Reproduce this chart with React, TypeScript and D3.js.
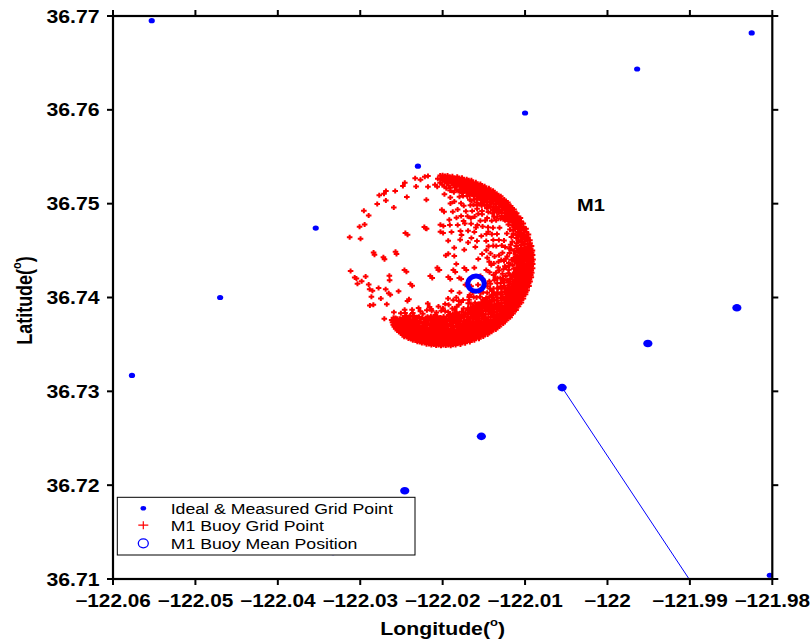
import React from 'react';
import * as d3 from 'd3';

// Axis ticks
const lonTicks = [-122.06, -122.05, -122.04, -122.03, -122.02, -122.01, -122.0, -121.99, -121.98];
const lonTickLabels = ['−122.06', '−122.05', '−122.04', '−122.03', '−122.02', '−122.01', '−122', '−121.99', '−121.98'];
const latTicks = [36.71, 36.72, 36.73, 36.74, 36.75, 36.76, 36.77];
const latTickLabels = ['36.71', '36.72', '36.73', '36.74', '36.75', '36.76', '36.77'];

// Ideal & measured grid points
const gridLon = [-122.0553, -121.9825, -121.9964, -122.01, -122.023, -122.0354, -122.047, -122.0577, -121.9843, -121.9951, -122.0055, -122.0153, -122.0246, -122.0333, -121.9803];
const gridLat = [36.7695, 36.7682, 36.76435, 36.75966, 36.754, 36.7474, 36.74, 36.7317, 36.7389, 36.7351, 36.7304, 36.7252, 36.7194, 36.71293, 36.7104];
const gridMeasured = [false, false, false, false, false, false, false, false, true, true, true, true, true, true, false];

// Mooring line segment
const cableLon = [-122.0055, -121.9901];
const cableLat = [36.7304, 36.71];

// M1 buoy anchor and mean position
const anchorLon = -122.0204;
const anchorLat = 36.7439;
const meanLon = -122.01595;
const meanLat = 36.74148;

// Station label position
const stationLon = -122.002;
const stationLat = 36.7492;

// M1 buoy GPS fixes around the anchor: [bearing (deg from north), range (m), range (m), ...]
const buoyFixes: number[][] = [
  [0.5, 1010, 968, 925], [2, 1014, 990, 952, 901], [3.5, 1006, 975, 938, 880], [5, 1015, 996, 960, 921, 862],
  [6.5, 1003, 981, 944, 897], [8, 1012, 988, 969, 930, 875, 842], [9.5, 998, 976, 951, 910],
  [11, 1013, 992, 965, 934, 888, 826], [12.5, 1004, 983, 955, 918, 860], [14, 1015, 995, 972, 940, 905, 852],
  [15.5, 1000, 978, 957, 926, 880], [17, 1011, 989, 964, 931, 896, 840], [18.5, 1005, 984, 950, 915, 868, 810],
  [20, 1014, 993, 970, 942, 903, 858], [21.5, 998, 975, 947, 920, 878, 822], [23, 1010, 988, 962, 930, 890, 845],
  [24.5, 1002, 979, 953, 911, 866, 795],
  [26, 1013, 992, 968, 936, 900, 852, 790], [27.5, 1001, 977, 949, 915, 874, 820], [29, 1010, 986, 958, 927, 887, 842, 760],
  [30.5, 997, 971, 940, 903, 860, 800], [32, 1012, 990, 963, 932, 895, 850, 772], [33.5, 1003, 979, 948, 912, 871, 815, 740],
  [35, 1014, 994, 966, 938, 901, 856, 798], [36.5, 999, 973, 944, 908, 866, 826], [38, 1009, 987, 960, 925, 889, 838, 750],
  [39.5, 1002, 978, 951, 916, 878, 808], [41, 1013, 991, 964, 933, 897, 847], [42.5, 996, 970, 941, 905, 862, 785],
  [44, 1011, 988, 959, 927, 884, 833], [45.5, 1001, 976, 947, 913, 870, 805, 725], [47, 1014, 993, 965, 935, 893, 846],
  [48.5, 998, 972, 943, 906, 858, 790], [50, 1008, 985, 955, 921, 880, 818], [51.5, 1003, 977, 946, 910, 862],
  [53, 1012, 990, 962, 928, 885, 829], [54.5, 995, 969, 938, 898, 850],
  [56, 1010, 982, 950, 905, 858], [58, 998, 970, 932, 886], [60, 1013, 988, 955, 914, 862], [62, 1001, 975, 940, 893],
  [64, 1011, 984, 948, 906, 850], [66, 996, 968, 930, 878], [68, 1012, 989, 958, 917, 864], [70, 1003, 976, 942, 897, 830],
  [72, 1014, 991, 961, 924, 875], [74, 999, 972, 938, 890, 822], [76, 1010, 985, 953, 913, 864, 795], [78, 1004, 978, 946, 905, 850],
  [80, 1013, 992, 966, 935, 897, 852, 790], [81.5, 1000, 976, 948, 913, 870, 815], [83, 1015, 995, 969, 939, 902, 860, 765],
  [84.5, 1004, 980, 952, 918, 878, 828], [86, 1012, 989, 961, 929, 890, 842, 735], [87.5, 998, 973, 944, 909, 866, 805],
  [89, 1014, 993, 967, 937, 899, 855, 780], [90.5, 1002, 978, 950, 915, 875, 820], [92, 1011, 987, 959, 926, 887, 838, 752],
  [93.5, 997, 972, 943, 906, 862, 795], [95, 1013, 991, 964, 933, 895, 848, 712], [96.5, 1001, 977, 947, 912, 869, 812],
  [98, 1010, 986, 957, 922, 884, 834, 760], [99.5, 1004, 980, 951, 917, 876, 825],
  [101, 1014, 994, 969, 940, 906, 868, 822, 760], [102.5, 999, 975, 948, 916, 880, 837, 786, 700],
  [104, 1012, 990, 964, 934, 899, 858, 810, 740], [105.5, 1003, 979, 953, 922, 887, 846, 795],
  [107, 1015, 996, 971, 943, 910, 872, 828, 768, 690], [108.5, 1000, 976, 950, 919, 884, 841, 790, 725],
  [110, 1011, 989, 963, 932, 897, 856, 806, 748], [111.5, 1005, 981, 955, 925, 890, 850, 799, 715],
  [113, 1013, 993, 967, 938, 903, 864, 817, 757, 680], [114.5, 998, 974, 947, 915, 878, 835, 782, 730],
  [116, 1012, 991, 965, 936, 901, 861, 813, 752], [117.5, 1004, 980, 953, 921, 885, 843, 793, 705],
  [119, 1015, 995, 970, 941, 907, 869, 824, 765], [120.5, 1001, 977, 950, 918, 882, 840, 788, 728],
  [122, 1010, 988, 962, 931, 896, 855, 807, 745, 672], [123.5, 1003, 979, 952, 920, 884, 842, 794, 730],
  [125, 1014, 993, 968, 939, 905, 866, 820, 762, 700], [126.5, 999, 975, 949, 917, 880, 838, 787, 722],
  [128, 1012, 990, 964, 933, 898, 858, 811, 751, 688], [129.5, 1005, 981, 955, 924, 889, 848, 800, 738],
  [131, 1015, 996, 972, 944, 912, 876, 834, 786, 728, 670], [132.5, 1001, 978, 952, 921, 886, 846, 800, 745, 690],
  [134, 1011, 990, 965, 936, 903, 865, 821, 770, 712, 655], [135.5, 1004, 981, 956, 927, 893, 854, 810, 758, 700],
  [137, 1014, 994, 970, 942, 910, 873, 831, 782, 725, 668], [138.5, 998, 976, 950, 919, 884, 844, 798, 742, 685],
  [140, 1012, 991, 967, 938, 905, 867, 824, 774, 716, 660], [141.5, 1003, 980, 955, 925, 891, 852, 807, 754, 696],
  [143, 1015, 995, 971, 943, 911, 875, 833, 785, 729, 672], [144.5, 1000, 977, 951, 921, 887, 848, 803, 750, 692],
  [146, 1011, 990, 966, 937, 904, 866, 822, 771, 713, 652], [147.5, 1005, 982, 957, 928, 894, 856, 812, 761, 703],
  [149, 1014, 994, 969, 941, 908, 871, 828, 779, 722, 664], [150.5, 999, 976, 950, 920, 885, 846, 801, 748, 690],
  [152, 1012, 992, 968, 939, 906, 869, 826, 776, 719, 658], [153.5, 1004, 981, 956, 926, 892, 853, 808, 756, 698],
  [155, 1015, 996, 972, 945, 913, 877, 836, 788, 732, 675], [156.5, 1001, 978, 953, 923, 889, 850, 805, 752, 694],
  [158, 1011, 990, 965, 936, 903, 865, 821, 770, 711, 650], [159.5, 1005, 983, 958, 929, 896, 858, 814, 763, 705],
  [161, 1014, 994, 970, 942, 909, 872, 829, 780, 724, 666], [162.5, 998, 975, 949, 918, 883, 843, 797, 744, 686],
  [164, 1012, 991, 967, 938, 905, 868, 825, 775, 718, 661], [165.5, 1003, 980, 955, 925, 891, 852, 807, 755, 697],
  [167, 1015, 995, 971, 944, 912, 876, 834, 786, 730, 673], [168.5, 1000, 977, 951, 921, 886, 847, 802, 749, 691],
  [170, 1011, 990, 966, 937, 904, 866, 823, 772, 714, 655], [171.5, 1004, 982, 957, 927, 893, 855, 811, 759, 701],
  [173, 1010, 990, 966, 938, 905, 868, 825, 775, 718, 663], [174.5, 998, 975, 949, 919, 884, 844, 799, 746, 689],
  [176, 1002, 984, 962, 935, 903, 867, 825, 776, 719, 660], [177.5, 995, 974, 950, 921, 888, 850, 806, 755, 698],
  [179, 1003, 985, 963, 937, 906, 871, 830, 783, 728, 670], [180.5, 994, 973, 949, 920, 887, 849, 804, 752, 694],
  [182, 1000, 981, 958, 931, 899, 862, 819, 769, 712, 655], [183.5, 992, 972, 948, 920, 888, 851, 809, 760, 704],
  [185, 998, 980, 957, 930, 899, 863, 822, 775, 720, 666], [186.5, 988, 967, 942, 912, 878, 839, 795, 743, 688],
  [188, 994, 976, 953, 926, 895, 859, 818, 770, 715, 660], [189.5, 985, 965, 941, 913, 881, 844, 802, 752, 698],
  [191, 990, 972, 950, 924, 894, 859, 819, 773, 720, 672], [192.5, 982, 962, 938, 910, 878, 841, 798, 747, 692],
  [194, 986, 967, 945, 918, 887, 852, 812, 764, 712], [195.5, 978, 958, 934, 906, 874, 838, 796, 748, 698],
  [197, 982, 963, 940, 914, 883, 848, 808, 762, 712], [198.5, 975, 955, 931, 903, 871, 835, 793, 745, 695],
  [200, 978, 959, 936, 910, 879, 844, 804, 758, 708],
  [201.5, 968, 948, 925, 898, 866, 830, 788, 740], [203, 975, 957, 934, 907, 876, 840, 797, 750, 705],
  [204.5, 962, 941, 916, 886, 852, 813, 768], [206, 955, 936, 912, 884, 851, 813, 770, 720],
  [207.5, 948, 927, 902, 872, 838, 798, 752], [209, 940, 920, 895, 866, 832, 792, 745],
  [210.5, 932, 910, 884, 853, 818, 776], [212, 920, 898, 872, 842, 806],
  [213.5, 905, 880, 852, 820], [215, 885, 858, 826], [216.5, 868, 835],
  // fixes along the inner edge of the dense band
  [100, 655], [103, 628], [108, 662], [114, 592], [119, 671], [126, 640], [130, 585], [134, 612], [139, 566],
  [142, 628], [148, 590], [155, 620], [158, 560], [163, 636], [166, 580], [171, 612], [178, 590], [184, 640],
  [189, 575], [196, 650], [205, 680], [211, 720], [214, 745],
  [4, 790], [9, 760], [13, 720], [16, 790], [22, 705], [26, 655], [31, 690], [34, 610], [37, 700], [43, 650],
  [46, 690], [50, 740], [53, 660], [59, 760], [63, 700], [66, 800], [71, 740], [75, 700], [79, 770], [82, 690],
  [88, 720], [91, 640], [94, 760],
  [10, 690], [14, 600], [19, 720], [24, 580], [27, 740], [32, 520], [36, 650], [40, 720], [45, 560], [49, 620],
  [52, 780], [56, 700], [58, 600], [61, 650], [65, 560], [69, 690], [73, 610], [77, 730], [81, 560], [84, 650],
  [86, 520], [90, 700], [93, 590], [98, 700], [104, 560], [107, 720], [111, 640], [115, 520], [120, 600],
  [123, 700], [127, 560], [133, 680], [136, 520], [145, 560], [149, 650], [156, 520], [162, 490], [167, 640],
  [174, 600], [181, 540], [187, 680], [193, 600], [202, 600], [207, 650], [213, 690],
  // scattered fixes
  [345, 1012], [348, 982], [351, 1008], [353, 1012], [338, 998], [336, 970], [344, 914], [352, 886], [357, 902],
  [359, 972], [358.5, 877], [325, 1008], [323, 996], [320, 1012], [330, 956], [335, 833], [349, 736], [321, 920],
  [315, 951], [322, 801], [306, 1010], [305, 934], [295, 953], [298, 916], [286, 1010], [287, 892], [312, 495],
  [338, 434], [339, 410], [1.5, 427], [2, 344], [2.5, 605], [278, 719], [274, 607], [283, 487], [340, 404],
  [312, 463], [5, 583], [6, 416], [7, 333], [280, 471], [272, 594], [276, 706],
  [263, 968], [257, 921], [258, 937], [254, 875], [253, 927], [257, 819], [250, 814], [252, 569], [247, 585],
  [254, 393], [195, 85], [209, 203], [229, 415], [246, 826], [244, 806], [240, 849], [244, 732], [240, 671],
  [235, 669], [233, 665], [231, 568], [235, 773], [235, 918], [234, 883], [228, 766], [216, 587], [216, 560],
  [221, 908], [219, 782], [191, 556], [188, 596], [201, 215], [225, 416], [250, 379],
  [12.5, 498], [20, 542], [29, 540], [38, 558], [44, 592], [21, 367], [38, 389], [52, 440], [57, 542], [57, 631],
  [67, 634], [46, 224], [64, 300], [67, 423], [76, 524], [74, 641], [47, 95], [70, 172], [87, 422], [91, 540],
  [95, 564], [89, 670], [96, 727], [97, 642], [102, 519], [102, 387], [107, 282], [125, 185], [186, 107],
  [153, 213], [133, 295], [109, 641], [116, 615], [117, 713], [128, 600], [150, 436], [143, 536], [151, 530],
  [173, 514], [169, 528], [154, 541], [161, 575], [151, 639], [152, 696], [49, 128], [101, 187], [151, 244],
  [132, 319], [110, 311], [127, 216], [180, 107], [22, 256], [42, 337], [41, 474],
  [112, 480], [118, 560], [124, 505], [131, 455], [137, 590], [141, 520], [146, 610], [157, 470], [164, 600],
  [168, 455], [176, 560], [183, 610], [194, 520], [199, 630], [106, 610], [121, 640], [135, 400], [160, 380],
  [15, 440], [25, 470], [33, 420], [48, 510], [55, 380], [60, 470], [72, 560], [80, 470], [85, 600], [30, 610],
  [18, 640],
];

const legendLabels = ['Ideal & Measured Grid Point', 'M1 Buoy Grid Point', 'M1 Buoy Mean Position'];
const stationLabel = 'M1';

const W = 810;
const H = 643;
const plot = { left: 113, right: 772.3, top: 16, bottom: 579 };
const FONT = "'Liberation Sans', Arial, Helvetica, sans-serif";
const STRETCH = 1.18;
const BLUE = '#0000ff';
const RED = '#ff0000';

const x = d3.scaleLinear().domain([-122.06, -121.98]).range([plot.left, plot.right]);
const y = d3.scaleLinear().domain([36.71, 36.77]).range([plot.bottom, plot.top]);

// Convert bearing/range fixes to geographic coordinates (local flat-earth approximation)
const rad = Math.PI / 180;
const mPerDegLat = 110980;
const mPerDegLon = 111320 * Math.cos(anchorLat * rad);
const fixes = buoyFixes.flatMap(([b, ...ranges]) =>
  ranges.map((r) => ({
    lon: anchorLon + (r * Math.sin(b * rad)) / mPerDegLon,
    lat: anchorLat + (r * Math.cos(b * rad)) / mPerDegLat,
  }))
);

function crossPath(points: { lon: number; lat: number }[], hx: number, hy: number) {
  return points
    .map((p) => {
      const cx = x(p.lon);
      const cy = y(p.lat);
      return `M${(cx - hx).toFixed(2)},${cy.toFixed(2)}H${(cx + hx).toFixed(2)}M${cx.toFixed(2)},${(cy - hy).toFixed(2)}V${(cy + hy).toFixed(2)}`;
    })
    .join('');
}

const Label = ({ tx, ty, anchor = 'start', size = 18, weight = 'bold', children }: any) => (
  <g transform={`translate(${tx},${ty}) scale(${STRETCH},1)`}>
    <text textAnchor={anchor} fontSize={size} fontWeight={weight} fontFamily={FONT} fill="#000">
      {children}
    </text>
  </g>
);

export default function App() {
  const tick = 6;
  const legend = { x0: 117.3, y0: 497.3, x1: 415, y1: 555 };
  const legendRows = [508.3, 525.2, 543.3];
  const markerX = 143.3;
  const textX = 170.7;

  return (
    <svg width={W} height={H} viewBox={`0 0 ${W} ${H}`} style={{ position: 'absolute', left: 0, top: 0, background: '#fff' }}>
      <rect x={0} y={0} width={W} height={H} fill="#fff" />
      <defs>
        <clipPath id="plot-clip">
          <rect x={plot.left} y={plot.top} width={plot.right - plot.left} height={plot.bottom - plot.top} />
        </clipPath>
      </defs>

      <g clipPath="url(#plot-clip)">
        {/* buoy fixes */}
        <path d={crossPath(fixes, 2.8, 2.5)} stroke={RED} strokeWidth={2} fill="none" />

        {/* mooring line */}
        <path
          d={d3.line<number>().x((_, i) => x(cableLon[i])).y((_, i) => y(cableLat[i]))(cableLon) || ''}
          stroke={BLUE}
          strokeWidth={1}
          fill="none"
        />

        {/* grid points */}
        {gridLon.map((lon, i) => (
          <ellipse
            key={i}
            cx={x(lon)}
            cy={y(gridLat[i])}
            rx={gridMeasured[i] ? 4.6 : 3.1}
            ry={gridMeasured[i] ? 3.8 : 2.6}
            fill={BLUE}
          />
        ))}

        {/* mean position */}
        <ellipse cx={x(meanLon)} cy={y(meanLat)} rx={8.2} ry={7.6} fill="none" stroke={BLUE} strokeWidth={5} />
      </g>

      {/* station label */}
      <Label tx={x(stationLon)} ty={y(stationLat)} anchor="middle" size={17}>
        {stationLabel}
      </Label>

      {/* frame */}
      <rect
        x={plot.left}
        y={plot.top}
        width={plot.right - plot.left}
        height={plot.bottom - plot.top}
        fill="none"
        stroke="#000"
        strokeWidth={2.2}
      />

      {/* ticks */}
      {lonTicks.map((t, i) => (
        <g key={`xt${i}`}>
          <line x1={x(t)} x2={x(t)} y1={plot.bottom} y2={plot.bottom + tick} stroke="#000" strokeWidth={2} />
          <line x1={x(t)} x2={x(t)} y1={plot.top} y2={plot.top - tick} stroke="#000" strokeWidth={2} />
          <Label tx={x(t)} ty={607} anchor="middle" size={17.6}>
            {lonTickLabels[i]}
          </Label>
        </g>
      ))}
      {latTicks.map((t, i) => (
        <g key={`yt${i}`}>
          <line x1={plot.left - tick} x2={plot.left} y1={y(t)} y2={y(t)} stroke="#000" strokeWidth={2} />
          <line x1={plot.right} x2={plot.right + tick} y1={y(t)} y2={y(t)} stroke="#000" strokeWidth={2} />
          <Label tx={99.5} ty={y(t) + 6.5} anchor="end">
            {latTickLabels[i]}
          </Label>
        </g>
      ))}

      {/* axis titles */}
      <Label tx={(plot.left + plot.right) / 2} ty={635} anchor="middle">
        Longitude(<tspan dy={-9} fontSize={11}>o</tspan>
        <tspan dy={9}>)</tspan>
      </Label>
      <g transform={`translate(32,${(plot.top + plot.bottom) / 2 + 3}) scale(${STRETCH},1) rotate(-90)`}>
        <text textAnchor="middle" fontSize={18} fontWeight="bold" fontFamily={FONT}>
          Latitude(<tspan dy={-9} fontSize={11}>o</tspan>
          <tspan dy={9}>)</tspan>
        </text>
      </g>

      {/* legend */}
      <rect x={legend.x0} y={legend.y0} width={legend.x1 - legend.x0} height={legend.y1 - legend.y0} fill="#fff" stroke="#000" strokeWidth={1} />
      <ellipse cx={markerX} cy={legendRows[0]} rx={2.8} ry={2.3} fill={BLUE} />
      <path
        d={`M${markerX - 5},${legendRows[1]}H${markerX + 5}M${markerX},${legendRows[1] - 4}V${legendRows[1] + 4}`}
        stroke={RED}
        strokeWidth={1.2}
      />
      <ellipse cx={markerX} cy={legendRows[2]} rx={5} ry={4.5} fill="none" stroke={BLUE} strokeWidth={1.3} />
      {legendLabels.map((l, i) => (
        <Label key={l} tx={textX} ty={legendRows[i] + 5.4} size={15} weight="normal">
          {l}
        </Label>
      ))}
    </svg>
  );
}
